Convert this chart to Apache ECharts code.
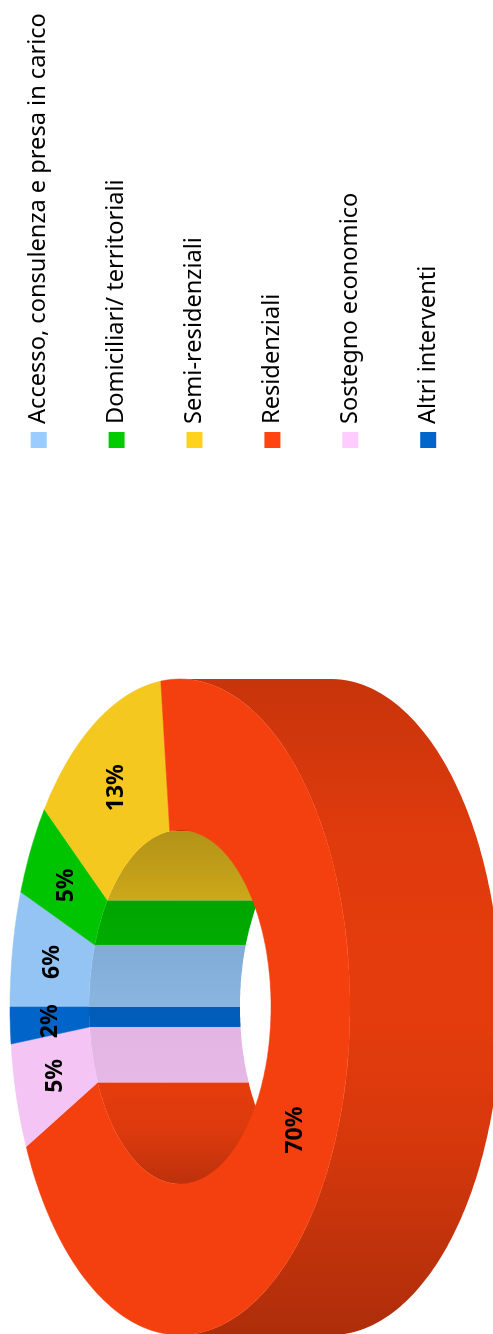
<!DOCTYPE html>
<html>
<head>
<meta charset="utf-8">
<style>
  html, body { margin: 0; padding: 0; background: #fff; overflow: hidden; }
  /* the whole picture is turned a quarter left, so the chart is laid out flat */
  #chart { position: absolute; left: 0; top: 1334px; width: 1334px; height: 493px; transform-origin: 0 0; transform: rotate(-90deg); }
</style>
</head>
<body>
<div id="chart"></div>
<script src="https://cdn.jsdelivr.net/npm/echarts@6/dist/echarts.min.js"></script>
<script>
const categories = [
  'Accesso, consulenza e presa in carico',
  'Domiciliari/ territoriali',
  'Semi-residenziali',
  'Residenziali',
  'Sostegno economico',
  'Altri interventi'
];
const shares = [5.7, 4.6, 12.9, 69.8, 5.2, 1.8];
const faceColors = ['#94c4f4', '#00c400', '#f4c81f', '#f4400e', '#f4c4f4', '#0064c8'];
const legendColors = ['#99ccff', '#00cc00', '#ffd21f', '#ff4411', '#ffccff', '#0066cc'];

const FONT = '"Noto Sans", sans-serif';
const CX = 327, CY = 180, DEPTH = 151;
const OUTER = [328, 170], INNER = [177, 91];

function shade(hex, k) {
  const n = parseInt(hex.slice(1), 16);
  const c = [n >> 16, (n >> 8) & 255, n & 255].map((v) => Math.round(v * k));
  return 'rgb(' + c.join(',') + ')';
}

function wallFill(color, stops, from, to) {
  return new echarts.graphic.LinearGradient(from, 0, to, 0,
    stops.map(([offset, k]) => ({ offset, color: shade(color, k) })), true);
}

function arc(radii, a, b, dy) {
  const pts = [];
  const steps = Math.max(2, Math.ceil(Math.abs(b - a)));
  for (let i = 0; i <= steps; i++) {
    const t = (a + (b - a) * i / steps) * Math.PI / 180;
    pts.push([CX + radii[0] * Math.sin(t), CY - radii[1] * Math.cos(t) + dy]);
  }
  return pts;
}

function band(radii, a, b) {
  return arc(radii, a, b, 0).concat(arc(radii, b, a, DEPTH));
}

const outerStops = [[0, 0.71], [0.12, 0.78], [0.3, 0.88], [0.5, 0.94], [0.75, 0.92], [1, 0.82]];
const innerStops = [[0, 0.77], [0.15, 0.9], [0.29, 0.94], [0.52, 0.92], [0.8, 0.84], [1, 0.73]];

function sliceItem(i, start, end) {
  const color = faceColors[i];
  const a = start * 3.6, b = end * 3.6;
  const children = [];

  // outer wall, only the half that faces the viewer
  const oa = Math.max(a, 90), ob = Math.min(b, 270);
  if (ob > oa) {
    children.push({
      type: 'polygon', z2: 1,
      shape: { points: band(OUTER, oa, ob) },
      style: { fill: wallFill(color, outerStops, CX - OUTER[0], CX + OUTER[0]) }
    });
  }

  // inside of the hole, the far half only
  [[0, 90], [270, 360]].forEach(([lo, hi]) => {
    const ia = Math.max(a, lo), ib = Math.min(b, hi);
    if (ib > ia) {
      children.push({
        type: 'polygon', z2: 2,
        shape: { points: band(INNER, ia, ib) },
        style: { fill: wallFill(color, innerStops, CX - INNER[0], CX + INNER[0]) }
      });
    }
  });

  children.push({
    type: 'polygon', z2: 3,
    shape: { points: arc(OUTER, a, b, 0).concat(arc(INNER, b, a, 0)) },
    style: { fill: color, stroke: color, lineWidth: 0.5 }
  });

  const mid = (a + b) / 2 * Math.PI / 180;
  children.push({
    type: 'text', z2: 4,
    style: {
      text: Math.round(shares[i]) + '%',
      x: CX + (OUTER[0] + INNER[0]) / 2 * Math.sin(mid),
      y: CY - (OUTER[1] + INNER[1]) / 2 * Math.cos(mid) + 1,
      align: 'center',
      verticalAlign: 'middle',
      font: 'bold 23px ' + FONT,
      fill: '#000'
    }
  });
  return { type: 'group', children };
}

let running = 0;
const series = categories.map((name, i) => {
  const start = running;
  running += shares[i];
  return {
    name,
    type: 'custom',
    coordinateSystem: 'none',
    itemStyle: { color: legendColors[i] },
    data: [[start, running]],
    renderItem: (params, api) => sliceItem(i, api.value(0), api.value(1))
  };
});

const chart = echarts.init(document.getElementById('chart'), null, { renderer: 'canvas' });
chart.setOption({
  animation: false,
  legend: {
    orient: 'vertical',
    left: 886,
    top: 26.7,
    padding: 0,
    itemWidth: 16,
    itemHeight: 16,
    itemGap: 53.9,
    icon: 'rect',
    align: 'left',
    textStyle: { fontFamily: FONT, fontSize: 23.6, color: '#000', padding: [4, 0, 0, 3] },
    data: categories
  },
  series
});
</script>
</body>
</html>
